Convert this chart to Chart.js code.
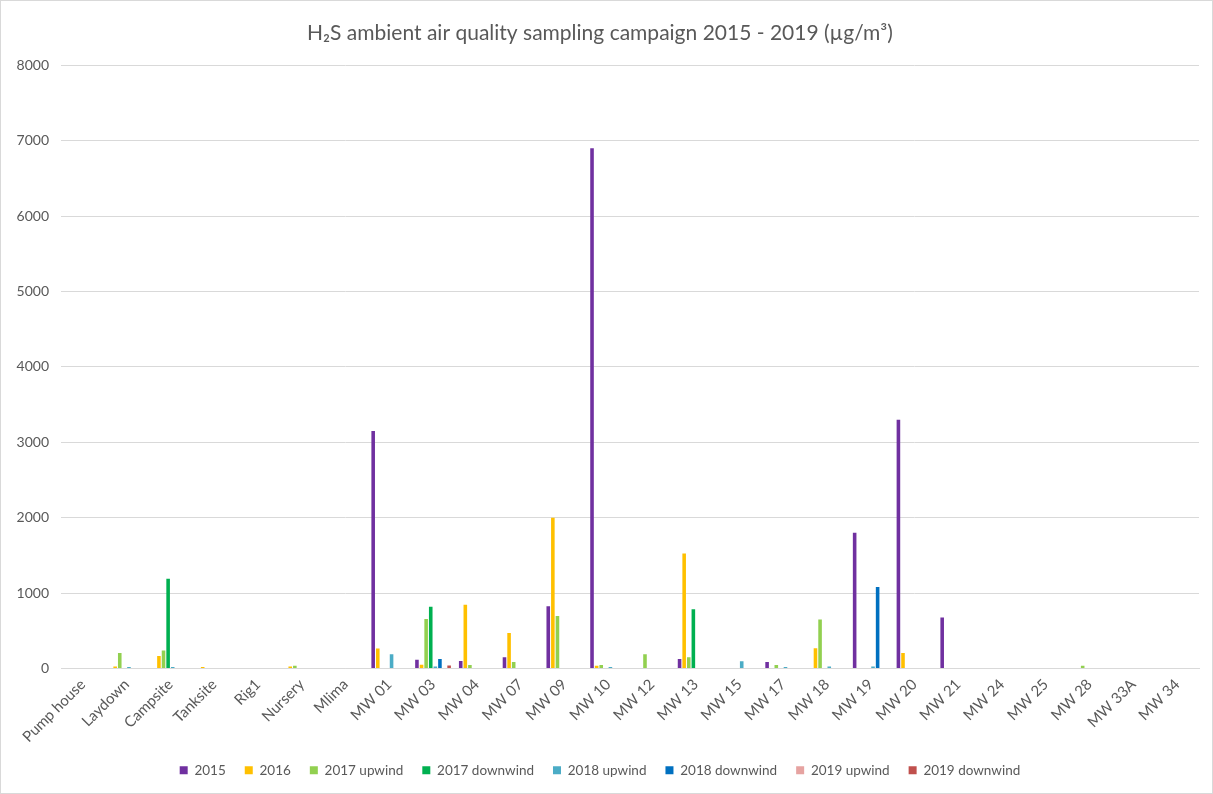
<!DOCTYPE html>
<html>
<head>
<meta charset="utf-8">
<script src="https://cdn.jsdelivr.net/npm/chart.js@4/dist/chart.umd.min.js"></script>
<style>
  html, body { margin: 0; padding: 0; background: #fff; }
  #wrap { position: relative; width: 1213px; height: 794px; box-sizing: border-box; border: 1px solid #d9d9d9; }
  canvas { display: block; }
</style>
</head>
<body>
<div id="wrap"><canvas id="c" width="1211" height="792"></canvas></div>
<script>
// Sampling sites
const sites = ['Pump house', 'Laydown', 'Campsite', 'Tanksite', 'Rig1', 'Nursery', 'Mlima',
  'MW 01', 'MW 03', 'MW 04', 'MW 07', 'MW 09', 'MW 10', 'MW 12', 'MW 13', 'MW 15', 'MW 17',
  'MW 18', 'MW 19', 'MW 20', 'MW 21', 'MW 24', 'MW 25', 'MW 28', 'MW 33A', 'MW 34'];

// H2S concentrations (µg/m³) per campaign, one value per site
const y2015 =        [null, null, null, null, null, null, null, 3150, 115, 100, 150, 825, 6900, null, 125, null, 85, null, 1800, 3300, 675, null, null, null, null, null];
const y2016 =        [null, 25, 165, 20, null, 25, null, 265, 50, 845, 470, 2000, 35, null, 1525, null, null, 270, null, 205, null, null, null, null, null, null];
const y2017up =      [null, 205, 240, null, null, 37, null, null, 655, 45, 85, 695, 45, 190, 150, null, 45, 650, null, null, null, null, null, 35, null, null];
const y2017down =    [null, null, 1190, null, null, null, null, null, 820, null, null, null, null, null, 785, null, null, null, null, null, null, null, null, null, null, null];
const y2018up =      [null, 20, 20, null, null, null, null, 190, 25, null, null, null, 20, null, null, 97, 20, 28, 25, null, null, null, null, null, null, null];
const y2018down =    [null, null, null, null, null, null, null, null, 125, null, null, null, null, null, null, null, null, null, 1080, null, null, null, null, null, null, null];
const y2019up =      [null, null, null, null, null, null, null, null, null, null, null, null, null, null, null, null, null, null, null, null, null, null, null, null, null, null];
const y2019down =    [null, null, null, null, null, null, null, null, 40, null, null, null, null, null, null, null, null, null, null, null, null, null, null, null, null, null];

const yTicks = [0, 1000, 2000, 3000, 4000, 5000, 6000, 7000, 8000];

const series = [
  { label: '2015', data: y2015, color: '#7030A0' },
  { label: '2016', data: y2016, color: '#FFC000' },
  { label: '2017 upwind', data: y2017up, color: '#92D050' },
  { label: '2017 downwind', data: y2017down, color: '#00B050' },
  { label: '2018 upwind', data: y2018up, color: '#4BACC6' },
  { label: '2018 downwind', data: y2018down, color: '#0070C0' },
  { label: '2019 upwind', data: y2019up, color: '#E6A3A1' },
  { label: '2019 downwind', data: y2019down, color: '#C0504D' }
];

const FONT = "Lato, 'Liberation Sans', sans-serif";
const GREY = '#595959';

new Chart(document.getElementById('c'), {
  type: 'bar',
  data: {
    labels: sites,
    datasets: series.map(s => ({
      label: s.label,
      data: s.data,
      backgroundColor: s.color,
      borderWidth: 0,
      categoryPercentage: 0.84,
      barPercentage: 0.78
    }))
  },
  options: {
    responsive: false,
    animation: false,
    layout: { padding: { left: 0, right: 13, top: 10, bottom: 6 } },
    plugins: {
      title: {
        display: true,
        text: 'H\u2082S ambient air quality sampling campaign 2015 - 2019 (\u00b5g/m\u00b3)',
        color: GREY,
        font: { family: FONT, size: 21, weight: 'normal' },
        padding: { top: 10, bottom: 19 }
      },
      legend: {
        position: 'bottom',
        labels: {
          color: GREY,
          font: { family: FONT, size: 13.5 },
          boxWidth: 8,
          boxHeight: 8,
          padding: 19
        }
      },
      tooltip: { enabled: false }
    },
    scales: {
      x: {
        grid: { display: false, drawTicks: false },
        border: { color: '#d9d9d9', width: 1 },
        afterFit: axis => { axis.height = 76; },
        ticks: {
          color: GREY,
          font: { family: FONT, size: 15 },
          minRotation: 45,
          maxRotation: 45,
          autoSkip: false,
          padding: 7
        }
      },
      y: {
        min: 0,
        max: 8000,
        afterBuildTicks: axis => { axis.ticks = yTicks.map(v => ({ value: v })); },
        afterFit: axis => { axis.width = 60; },
        grid: { color: '#d9d9d9', drawTicks: false, lineWidth: 1 },
        border: { display: false },
        ticks: {
          color: GREY,
          font: { family: FONT, size: 14 },
          padding: 12,
          callback: v => String(v)
        }
      }
    }
  }
});
</script>
</body>
</html>
